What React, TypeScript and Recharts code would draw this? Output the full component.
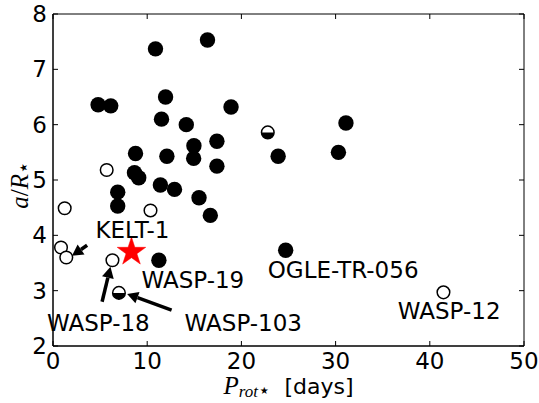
import {
  ScatterChart,
  Scatter,
  XAxis,
  YAxis,
  ReferenceLine,
  ReferenceDot,
  ReferenceArea,
} from 'recharts'

// rotation period [days] vs a/R*
const FILLED: [number, number][] = [
  [10.88, 7.37], [16.4, 7.53], [4.79, 6.36], [6.13, 6.34], [11.95, 6.5],
  [11.52, 6.1], [14.15, 6.0], [18.9, 6.32], [23.9, 5.43], [17.4, 5.7],
  [14.96, 5.62], [14.93, 5.39], [17.4, 5.25], [12.09, 5.43], [8.76, 5.48],
  [8.65, 5.13], [9.1, 5.04], [11.4, 4.91], [12.9, 4.83], [15.5, 4.68],
  [6.87, 4.78], [6.87, 4.53], [16.7, 4.36], [11.24, 3.55], [24.7, 3.73],
  [31.1, 6.03], [30.3, 5.5],
]
const OPEN: [number, number][] = [
  [5.7, 5.18], [1.24, 4.49], [10.35, 4.45], [0.85, 3.78], [1.41, 3.6],
  [6.31, 3.55], [41.45, 2.97],
]
const HALF: [number, number][] = [[22.8, 5.86], [7.0, 2.96]]
const KELT1: [number, number][] = [[8.33, 3.7]]

const LABEL_NAMES = ['KELT-1', 'WASP-19', 'OGLE-TR-056', 'WASP-12', 'WASP-18', 'WASP-103']
const LABEL_X = [4.5, 9.39, 22.8, 36.6, -0.64, 13.97]
const LABEL_Y = [3.96, 3.04, 3.23, 2.48, 2.27, 2.27]

// arrows: tail -> tip
const ARROWS: [number, number, number, number][] = [
  [3.62, 3.82, 2.02, 3.63],
  [5.21, 2.8, 6.1, 3.43],
  [12.59, 2.65, 7.87, 2.94],
]

const X_TICKS = [0, 10, 20, 30, 40, 50]
const Y_TICKS = [2, 3, 4, 5, 6, 7, 8]

const FONT = 'DejaVu Sans, sans-serif'
const MATH = 'Liberation Serif, serif'

const toPts = (arr: [number, number][]) => arr.map(([x, y]) => ({ x, y }))

function FilledDot(p: any) {
  return <circle cx={p.cx} cy={p.cy} r={7.7} fill="#000" />
}

function OpenDot(p: any) {
  return <circle cx={p.cx} cy={p.cy} r={6.3} fill="#fff" stroke="#000" strokeWidth={1.5} />
}

function HalfDot(p: any) {
  const r = 6.3
  const { cx, cy } = p
  return (
    <g>
      <circle cx={cx} cy={cy} r={r} fill="#fff" />
      <path d={`M${cx - r},${cy} A${r},${r} 0 0 0 ${cx + r},${cy} Z`} fill="#000" />
      <circle cx={cx} cy={cy} r={r} fill="none" stroke="#000" strokeWidth={1.5} />
    </g>
  )
}

function StarDot(p: any) {
  const R = 15
  const r = R * 0.382
  const pts: string[] = []
  for (let i = 0; i < 10; i++) {
    const a = -Math.PI / 2 + (i * Math.PI) / 5
    const rr = i % 2 === 0 ? R : r
    pts.push(`${p.cx + rr * Math.cos(a)},${p.cy + rr * Math.sin(a)}`)
  }
  return <polygon points={pts.join(' ')} fill="#ff0000" stroke="#ff0000" strokeWidth={0.5} />
}

function Arrow(p: any) {
  const { x1, y1, x2, y2 } = p
  const dx = x2 - x1
  const dy = y2 - y1
  const len = Math.hypot(dx, dy) || 1
  const ux = dx / len
  const uy = dy / len
  const hl = 11
  const hw = 6
  const bx = x2 - ux * hl
  const by = y2 - uy * hl
  const nx = -uy
  const ny = ux
  return (
    <g>
      <line x1={x1} y1={y1} x2={bx} y2={by} stroke="#000" strokeWidth={3.5} />
      <polygon
        points={`${x2},${y2} ${bx + nx * hw},${by + ny * hw} ${bx - nx * hw},${by - ny * hw}`}
        fill="#000"
      />
    </g>
  )
}

// inward ticks at both ends of a reference line
function InTicks(p: any) {
  const { x1, y1, x2, y2 } = p
  const len = 5
  const dx = x2 - x1
  const dy = y2 - y1
  const d = Math.hypot(dx, dy) || 1
  const ux = (dx / d) * len
  const uy = (dy / d) * len
  return (
    <g>
      <line x1={x1} y1={y1} x2={x1 + ux} y2={y1 + uy} stroke="#000" strokeWidth={1} />
      <line x1={x2} y1={y2} x2={x2 - ux} y2={y2 - uy} stroke="#000" strokeWidth={1} />
    </g>
  )
}

function XLabel(props: any) {
  const vb = props.viewBox
  const cx = vb.x + vb.width / 2
  return (
    <text x={cx} y={394} textAnchor="middle" fill="#000" fontSize={22} fontFamily={FONT}>
      <tspan fontFamily={MATH} fontStyle="italic" fontSize={25}>P</tspan>
      <tspan fontFamily={MATH} fontStyle="italic" fontSize={17} dy={3}>rot</tspan>
      <tspan fontSize={20}>⋆</tspan>
      <tspan dy={-3}>{'\u00a0 [days]'}</tspan>
    </text>
  )
}

function YLabel(props: any) {
  const vb = props.viewBox
  const cy = vb.y + vb.height / 2 + 5
  return (
    <text
      x={28}
      y={cy}
      transform={`rotate(-90, 28, ${cy})`}
      textAnchor="middle"
      fill="#000"
      fontSize={25}
      fontFamily={MATH}
    >
      <tspan fontStyle="italic">a</tspan>
      <tspan>/</tspan>
      <tspan fontStyle="italic">R</tspan>
      <tspan fontSize={20} fontFamily={FONT} dy={2}>⋆</tspan>
    </text>
  )
}

export default function App() {
  const tickStyle = { fontSize: 23, fill: '#000', fontFamily: FONT }
  return (
    <div style={{ position: 'absolute', left: 0, top: 0, background: '#fff' }}>
      <ScatterChart width={539} height={403} margin={{ top: 14, right: 15, bottom: 0, left: 0 }}>
        <XAxis
          type="number"
          dataKey="x"
          domain={[0, 50]}
          ticks={X_TICKS}
          interval={0}
          height={57}
          tickSize={0}
          tickMargin={7}
          tickLine={false}
          tick={tickStyle}
          axisLine={{ stroke: '#000' }}
          label={{ content: XLabel }}
        />
        <YAxis
          type="number"
          dataKey="y"
          domain={[2, 8]}
          ticks={Y_TICKS}
          interval={0}
          width={53}
          tickSize={0}
          tickMargin={6}
          tickLine={false}
          tick={tickStyle}
          axisLine={{ stroke: '#000' }}
          label={{ content: YLabel }}
        />
        <ReferenceArea x1={0} x2={50} y1={2} y2={8} fill="none" stroke="#000" strokeWidth={1} fillOpacity={0} />
        {X_TICKS.map((t) => (
          <ReferenceLine key={`xt${t}`} x={t} shape={InTicks} />
        ))}
        {Y_TICKS.map((t) => (
          <ReferenceLine key={`yt${t}`} y={t} shape={InTicks} />
        ))}
        <Scatter data={toPts(FILLED)} shape={FilledDot} isAnimationActive={false} />
        <Scatter data={toPts(OPEN)} shape={OpenDot} isAnimationActive={false} />
        <Scatter data={toPts(HALF)} shape={HalfDot} isAnimationActive={false} />
        <Scatter data={toPts(KELT1)} shape={StarDot} isAnimationActive={false} />
        {ARROWS.map(([ax, ay, bx, by], i) => (
          <ReferenceLine
            key={`ar${i}`}
            segment={[{ x: ax, y: ay }, { x: bx, y: by }]}
            ifOverflow="visible"
            shape={Arrow}
          />
        ))}
        {LABEL_NAMES.map((name, i) => (
          <ReferenceDot
            key={name}
            x={LABEL_X[i]}
            y={LABEL_Y[i]}
            ifOverflow="visible"
            shape={(p: any) => (
              <text x={p.cx} y={p.cy} fill="#000" fontSize={23} fontFamily={FONT}>
                {name}
              </text>
            )}
          />
        ))}
      </ScatterChart>
    </div>
  )
}
